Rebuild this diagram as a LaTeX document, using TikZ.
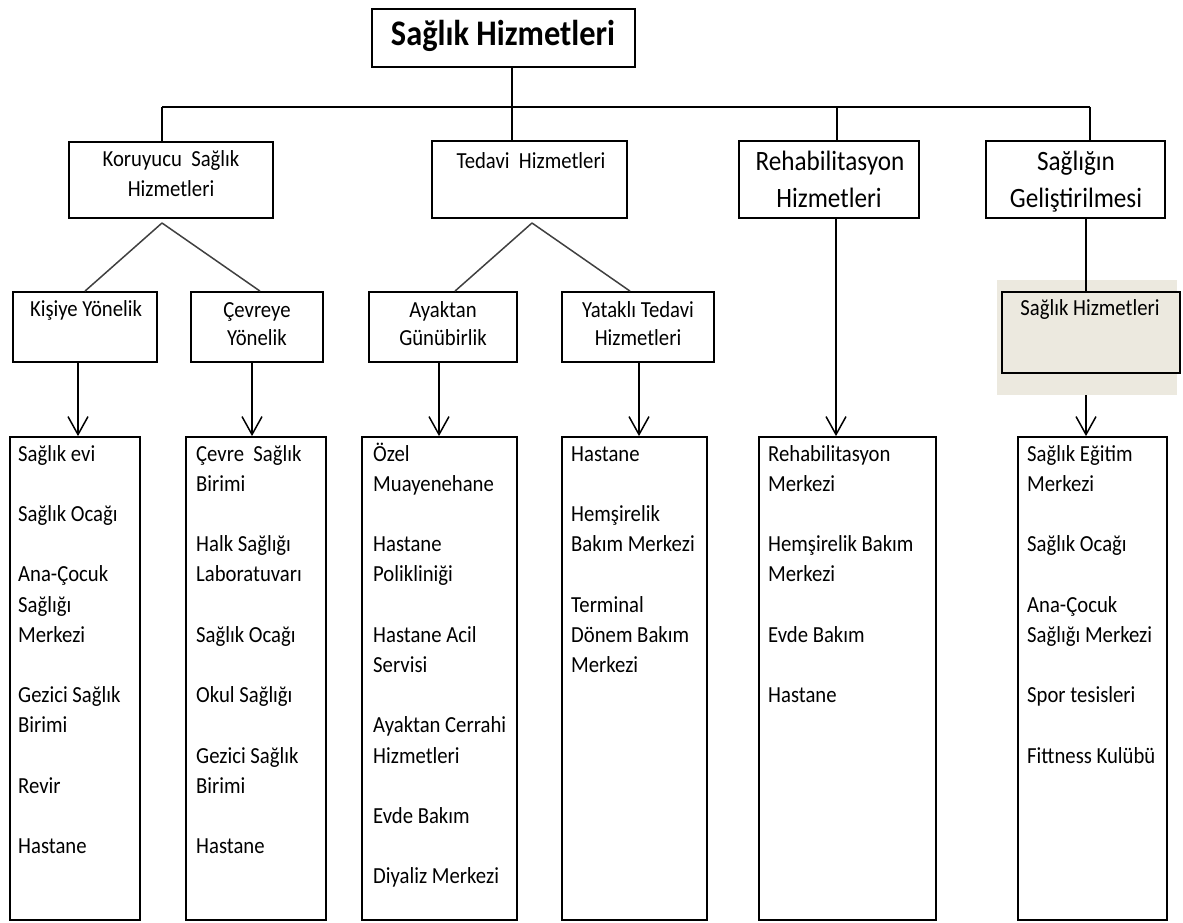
\documentclass[tikz,border=0pt]{standalone}
\usepackage{fontspec}
\setmainfont{Carlito}[FakeStretch=0.9]
\usetikzlibrary{arrows.meta}
\definecolor{beige}{HTML}{ECE9DF}
\newcommand\bodyfont{\fontsize{23}{30}\selectfont}
\newcommand\bigfont{\fontsize{28}{36}\selectfont}
\newcommand\titlefont{\fontsize{36}{40}\selectfont\bfseries}
\begin{document}
\begin{tikzpicture}[x=1pt,y=-1pt,
  box/.style={draw=black,line width=1.8pt,fill=white,inner sep=0pt,rectangle},
  lbl/.style={anchor=base,inner sep=0pt,font=\bodyfont},
  biglbl/.style={anchor=base,inner sep=0pt,font=\bigfont},
  item/.style={anchor=base west,inner sep=0pt,font=\bodyfont},
  wire/.style={line width=1.5pt,draw=black},
  slant/.style={line width=1.5pt,draw=black!75},
  arr/.style={line width=1.5pt,draw=black,-{Straight Barb[length=18pt,width=20pt,line width=1.5pt]}}]
\useasboundingbox (0,0) rectangle (1183,923);

% top level
\node[box,minimum width=263,minimum height=58] (top) at (503.5,38) {};
\node[anchor=base,inner sep=0pt,font=\titlefont] (toptxt) at (503,46) {Sağlık Hizmetleri};

% second level
\node[box,minimum width=204,minimum height=76] (kor) at (171,180) {};
\node[lbl] (kor1) at (171,166) {Koruyucu\ \ Sağlık};
\node[lbl] (kor2) at (171,196) {Hizmetleri};

\node[box,minimum width=195,minimum height=77] (ted) at (529.5,179.5) {};
\node[lbl] (ted1) at (531,168) {Tedavi\ \ Hizmetleri};

\node[box,minimum width=180,minimum height=77] (reh) at (829,179.5) {};
\node[biglbl] (reh1) at (830,170) {Rehabilitasyon};
\node[biglbl] (reh2) at (829,207) {Hizmetleri};

\node[box,minimum width=179,minimum height=77] (gel) at (1075.5,179.5) {};
\node[biglbl] (gel1) at (1076,170) {Sağlığın};
\node[biglbl] (gel2) at (1076,207) {Geliştirilmesi};

% bus from the title
\coordinate (busT) at (512,107);
\coordinate (busK) at (162,107);
\coordinate (busR) at (837,107);
\coordinate (busG) at (1090,107);
\draw[wire] (top.south -| busT) -- (ted.north -| busT);
\draw[wire] (busK) -- (busG);
\draw[wire] (busK) -- (kor.north -| busK);
\draw[wire] (busR) -- (reh.north -| busR);
\draw[wire] (busG) -- (gel.north -| busG);

% third level
\node[box,minimum width=144,minimum height=70] (kis) at (85,327) {};
\node[lbl] (kis1) at (86,316) {Kişiye Yönelik};

\node[box,minimum width=132,minimum height=70] (cev) at (257,327) {};
\node[lbl] (cev1) at (257,317) {Çevreye};
\node[lbl] (cev2) at (257,345) {Yönelik};

\node[box,minimum width=148,minimum height=70] (aya) at (443,327) {};
\node[lbl] (aya1) at (443,317) {Ayaktan};
\node[lbl] (aya2) at (443,345) {Günübirlik};

\node[box,minimum width=152,minimum height=70] (yat) at (638,327) {};
\node[lbl] (yat1) at (638,317) {Yataklı Tedavi};
\node[lbl] (yat2) at (638,345) {Hizmetleri};

% shaded panel behind the health services box
\fill[beige] (997,280) rectangle (1177,395);
\node[box,fill=beige,minimum width=178,minimum height=81] (shz) at (1091,332.5) {};
\node[lbl] (shz1) at (1090,315) {Sağlık Hizmetleri};

% splits
\coordinate (korfork) at (162,223);
\coordinate (tedfork) at (532,223);
\coordinate (kisT) at (85,292);
\coordinate (cevT) at (260,292);
\coordinate (ayaT) at (455,292);
\coordinate (yatT) at (630,292);
\draw[slant] (korfork) -- (kis.north -| kisT);
\draw[slant] (korfork) -- (cev.north -| cevT);
\draw[slant] (tedfork) -- (aya.north -| ayaT);
\draw[slant] (tedfork) -- (yat.north -| yatT);

% bottom lists
\node[box,minimum width=130,minimum height=483] (b1) at (75,678.5) {};
\node[box,minimum width=140,minimum height=483] (b2) at (256,678.5) {};
\node[box,minimum width=155,minimum height=483] (b3) at (439.5,678.5) {};
\node[box,minimum width=145,minimum height=483] (b4) at (634.5,678.5) {};
\node[box,minimum width=177,minimum height=483] (b5) at (847.5,678.5) {};
\node[box,minimum width=149,minimum height=483] (b6) at (1092.5,678.5) {};

% arrows into the lists
\coordinate (a1) at (78,400);
\coordinate (a2) at (252,400);
\coordinate (a3) at (439,400);
\coordinate (a4) at (639,400);
\coordinate (a5) at (836,400);
\coordinate (a6) at (1086,400);
\draw[arr] (kis.south -| a1) -- (b1.north -| a1);
\draw[arr] (cev.south -| a2) -- (b2.north -| a2);
\draw[arr] (aya.south -| a3) -- (b3.north -| a3);
\draw[arr] (yat.south -| a4) -- (b4.north -| a4);
\draw[arr] (reh.south -| a5) -- (b5.north -| a5);
\draw[wire] (gel.south -| a6) -- (shz.north -| a6);
\draw[arr] (1086,395) coordinate (shzfoot) -- (b6.north -| a6);

% list entries: line number / text
\foreach \k/\t in {0/Sağlık evi,2/Sağlık Ocağı,4/Ana-Çocuk,5/Sağlığı,6/Merkezi,8/Gezici Sağlık,9/Birimi,11/Revir,13/Hastane}
  \node[item] (l1-\k) at (18,461+30.2*\k) {\t};
\foreach \k/\t in {0/Çevre\ \ Sağlık,1/Birimi,3/Halk Sağlığı,4/Laboratuvarı,6/Sağlık Ocağı,8/Okul\ Sağlığı,10/Gezici Sağlık,11/Birimi,13/Hastane}
  \node[item] (l2-\k) at (196,461+30.2*\k) {\t};
\foreach \k/\t in {0/Özel,1/Muayenehane,3/Hastane,4/Polikliniği,6/Hastane Acil,7/Servisi,9/Ayaktan Cerrahi,10/Hizmetleri,12/Evde Bakım,14/Diyaliz Merkezi}
  \node[item] (l3-\k) at (373,461+30.2*\k) {\t};
\foreach \k/\t in {0/Hastane,2/Hemşirelik,3/Bakım Merkezi,5/Terminal,6/Dönem Bakım,7/Merkezi}
  \node[item] (l4-\k) at (571,461+30.2*\k) {\t};
\foreach \k/\t in {0/Rehabilitasyon,1/Merkezi,3/Hemşirelik Bakım,4/Merkezi,6/Evde Bakım,8/Hastane}
  \node[item] (l5-\k) at (768,461+30.2*\k) {\t};
\foreach \k/\t in {0/Sağlık Eğitim,1/Merkezi,3/Sağlık Ocağı,5/Ana-Çocuk,6/Sağlığı Merkezi,8/Spor tesisleri,10/Fittness Kulübü}
  \node[item] (l6-\k) at (1027,461+30.2*\k) {\t};
\end{tikzpicture}
\end{document}
